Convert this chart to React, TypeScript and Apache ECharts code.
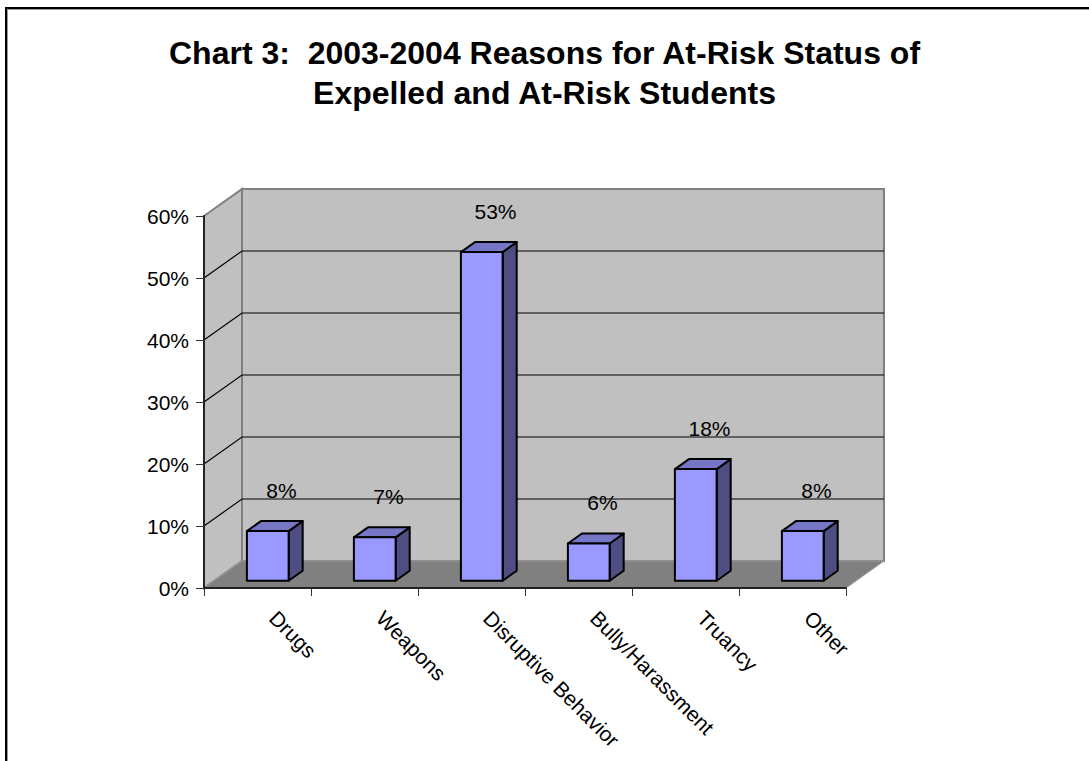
import React, { useEffect, useRef } from "react";
import * as echarts from "echarts";

// Chart data
const categories = [
  "Drugs",
  "Weapons",
  "Disruptive Behavior",
  "Bully/Harassment",
  "Truancy",
  "Other",
];
const shares = [8, 7, 53, 6, 18, 8];
const yTicks = [0, 10, 20, 30, 40, 50, 60];

const titleText =
  "Chart 3:  2003-2004 Reasons for At-Risk Status of\nExpelled and At-Risk Students";

// Oblique projection of the depth axis (pixels at full depth)
const DEPTH: [number, number] = [38, -27];
const BAR_FRONT = 0.27;
const BAR_BACK = 0.64;
const BAR_WIDTH_RATIO = 0.39;

const FONT = '"Liberation Sans", Arial, sans-serif';
const LABEL_SIZE = 21;

function renderWalls(params: any, api: any) {
  const cs = params.coordSys;
  const x0 = cs.x;
  const x1 = cs.x + cs.width;
  const yTop = cs.y;
  const y0 = cs.y + cs.height;
  const [dx, dy] = DEPTH;
  const children: any[] = [];

  // back wall
  children.push({
    type: "polygon",
    shape: {
      points: [
        [x0 + dx, yTop + dy],
        [x1 + dx, yTop + dy],
        [x1 + dx, y0 + dy],
        [x0 + dx, y0 + dy],
      ],
    },
    style: { fill: "#C0C0C0", stroke: "#808080", lineWidth: 2 },
  });
  // side wall
  children.push({
    type: "polygon",
    shape: {
      points: [
        [x0, yTop],
        [x0 + dx, yTop + dy],
        [x0 + dx, y0 + dy],
        [x0, y0],
      ],
    },
    style: { fill: "#C0C0C0", stroke: "#808080", lineWidth: 2 },
  });
  // floor
  children.push({
    type: "polygon",
    shape: {
      points: [
        [x0, y0],
        [x0 + dx, y0 + dy],
        [x1 + dx, y0 + dy],
        [x1, y0],
      ],
    },
    style: { fill: "#808080", stroke: "#9C9C9C", lineWidth: 1 },
  });

  // gridlines across the side wall and the back wall
  const top = yTicks[yTicks.length - 1];
  for (const t of yTicks) {
    if (t <= 0 || t >= top) continue;
    const y = api.coord([0, t])[1];
    children.push({
      type: "polyline",
      shape: {
        points: [
          [x0, y],
          [x0 + dx, y + dy],
          [x1 + dx, y + dy],
        ],
      },
      style: { fill: null, stroke: "#000", lineWidth: 1.2 },
    });
  }
  return { type: "group", children };
}

function renderBar(params: any, api: any) {
  const idx = api.value(0);
  const val = api.value(1);
  const topPt = api.coord([idx, val]);
  const basePt = api.coord([idx, 0]);
  const band = api.size([1, 0])[0];
  const hw = (band * BAR_WIDTH_RATIO) / 2;
  const fx = DEPTH[0] * BAR_FRONT;
  const fy = DEPTH[1] * BAR_FRONT;
  const bx = DEPTH[0] * BAR_BACK;
  const by = DEPTH[1] * BAR_BACK;
  const L = topPt[0] - hw;
  const R = topPt[0] + hw;
  const T = topPt[1];
  const B = basePt[1];
  const edge = { stroke: "#000", lineWidth: 2, lineJoin: "round" };

  return {
    type: "group",
    children: [
      {
        type: "polygon",
        shape: {
          points: [
            [R + fx, T + fy],
            [R + bx, T + by],
            [R + bx, B + by],
            [R + fx, B + fy],
          ],
        },
        style: { fill: "#4E4E82", ...edge },
      },
      {
        type: "polygon",
        shape: {
          points: [
            [L + fx, T + fy],
            [L + bx, T + by],
            [R + bx, T + by],
            [R + fx, T + fy],
          ],
        },
        style: { fill: "#7676C6", ...edge },
      },
      {
        type: "polygon",
        shape: {
          points: [
            [L + fx, T + fy],
            [R + fx, T + fy],
            [R + fx, B + fy],
            [L + fx, B + fy],
          ],
        },
        style: { fill: "#9999FF", ...edge },
      },
      {
        type: "text",
        x: topPt[0] + 24,
        y: T - 48,
        style: {
          text: `${val}%`,
          fill: "#000",
          fontSize: LABEL_SIZE,
          fontFamily: FONT,
          align: "center",
          verticalAlign: "middle",
        },
      },
    ],
  };
}

export default function App() {
  const ref = useRef<HTMLDivElement>(null);

  useEffect(() => {
    if (!ref.current) return;
    const chart = echarts.init(ref.current, undefined, { renderer: "svg" });
    chart.setOption({
      animation: false,
      backgroundColor: "#fff",
      title: {
        text: titleText,
        left: "center",
        top: 28,
        textStyle: {
          fontFamily: FONT,
          fontSize: 32,
          fontWeight: "bold",
          color: "#000",
          lineHeight: 40,
        },
      },
      graphic: [
        {
          type: "polyline",
          shape: {
            points: [
              [6, 1200],
              [6, 8],
              [1200, 8],
            ],
          },
          style: { fill: null, stroke: "#000", lineWidth: 2 },
          z: 100,
        },
        {
          type: "polyline",
          shape: {
            points: [
              [7.5, 1200],
              [7.5, 9.5],
              [1200, 9.5],
            ],
          },
          style: { fill: null, stroke: "#9A9A9A", lineWidth: 1 },
          z: 100,
        },
      ],
      grid: {
        left: 204,
        top: 216,
        width: 642,
        height: 372,
        containLabel: false,
      },
      xAxis: {
        type: "category",
        data: categories,
        axisLine: { lineStyle: { color: "#222", width: 2 } },
        axisTick: {
          show: true,
          length: 8,
          lineStyle: { color: "#333", width: 1 },
        },
        axisLabel: {
          rotate: -45,
          margin: 11,
          padding: [0, 0, 0, 22],
          fontSize: LABEL_SIZE,
          fontFamily: FONT,
          color: "#000",
          interval: 0,
        },
        splitLine: { show: false },
      },
      yAxis: {
        type: "value",
        min: yTicks[0],
        max: yTicks[yTicks.length - 1],
        interval: 10,
        axisLine: { show: true, lineStyle: { color: "#222", width: 2 } },
        axisTick: {
          show: true,
          length: 8,
          lineStyle: { color: "#333", width: 1 },
        },
        axisLabel: {
          formatter: "{value}%",
          margin: 15,
          fontSize: LABEL_SIZE,
          fontFamily: FONT,
          color: "#000",
        },
        splitLine: { show: false },
      },
      series: [
        {
          type: "custom",
          name: "walls",
          coordinateSystem: "cartesian2d",
          renderItem: renderWalls,
          data: [[0, 0]],
          encode: { x: 0, y: 1 },
          silent: true,
          z: 0,
        },
        {
          type: "custom",
          name: "At-risk reasons",
          coordinateSystem: "cartesian2d",
          renderItem: renderBar,
          data: shares.map((v, i) => [i, v]),
          encode: { x: 0, y: 1 },
          z: 5,
        },
      ],
    });
    return () => chart.dispose();
  }, []);

  return (
    <div
      ref={ref}
      style={{
        position: "fixed",
        left: 0,
        top: 0,
        width: 1089,
        height: 761,
      }}
    />
  );
}
